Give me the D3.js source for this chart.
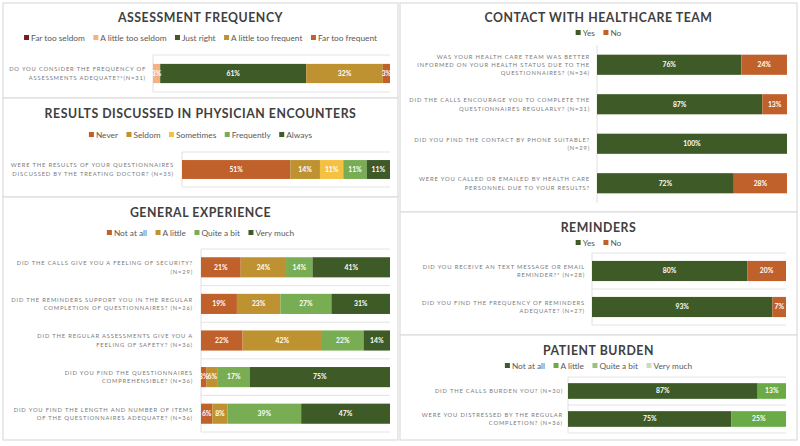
<!DOCTYPE html>
<html>
<head>
<meta charset="utf-8">
<script src="https://cdn.jsdelivr.net/npm/d3@7"></script>
<style>
  html, body { margin: 0; padding: 0; background: #ffffff; }
  svg { display: block; }
</style>
</head>
<body>
<svg id="chart" width="800" height="446"></svg>
<script>
// ---------------- DATA ----------------
const freqCategories = ["Far too seldom", "A little too seldom", "Just right", "A little too frequent", "Far too frequent"];
const freqQuestions = [["DO YOU CONSIDER THE FREQUENCY OF", "ASSESSMENTS ADEQUATE?*(N=31)"]];
const freqValues = [[0, 3, 61, 32, 3]];

const discussCategories = ["Never", "Seldom", "Sometimes", "Frequently", "Always"];
const discussQuestions = [["WERE THE RESULTS OF YOUR QUESTIONNAIRES", "DISCUSSED BY THE TREATING DOCTOR? (N=35)"]];
const discussValues = [[51, 14, 11, 11, 11]];

const generalCategories = ["Not at all", "A little", "Quite a bit", "Very much"];
const generalQuestions = [
  ["DID THE CALLS GIVE YOU A FEELING OF SECURITY?", "(N=29)"],
  ["DID THE REMINDERS SUPPORT YOU IN THE REGULAR", "COMPLETION OF QUESTIONNAIRES? (N=26)"],
  ["DID THE REGULAR ASSESSMENTS GIVE YOU A", "FEELING OF SAFETY? (N=36)"],
  ["DID YOU FIND THE QUESTIONNAIRES", "COMPREHENSIBLE? (N=36)"],
  ["DID YOU FIND THE LENGTH AND NUMBER OF ITEMS", "OF THE QUESTIONNAIRES ADEQUATE? (N=36)"]
];
const generalValues = [
  [21, 24, 14, 41],
  [19, 23, 27, 31],
  [22, 42, 22, 14],
  [3, 6, 17, 75],
  [6, 8, 39, 47]
];

const contactCategories = ["Yes", "No"];
const contactQuestions = [
  ["WAS YOUR HEALTH CARE TEAM WAS BETTER", "INFORMED ON YOUR HEALTH STATUS DUE TO THE", "QUESTIONNAIRES? (N=34)"],
  ["DID THE CALLS ENCOURAGE YOU TO COMPLETE THE", "QUESTIONNAIRES REGULARLY? (N=31)"],
  ["DID YOU FIND THE CONTACT BY PHONE SUITABLE?", "(N=29)"],
  ["WERE YOU CALLED OR EMAILED BY HEALTH CARE", "PERSONNEL DUE TO YOUR RESULTS?"]
];
const contactValues = [[76, 24], [87, 13], [100, 0], [72, 28]];

const reminderCategories = ["Yes", "No"];
const reminderQuestions = [
  ["DID YOU RECEIVE AN TEXT MESSAGE OR EMAIL", "REMINDER?* (N=28)"],
  ["DID YOU FIND THE FREQUENCY OF REMINDERS", "ADEQUATE? (N=27)"]
];
const reminderValues = [[80, 20], [93, 7]];

const burdenCategories = ["Not at all", "A little", "Quite a bit", "Very much"];
const burdenQuestions = [
  ["DID THE CALLS BURDEN YOU? (N=30)"],
  ["WERE YOU DISTRESSED BY THE REGULAR", "COMPLETION? (N=36)"]
];
const burdenValues = [[87, 13, 0, 0], [75, 25, 0, 0]];

// ---------------- STYLE / LAYOUT ----------------
const C = {
  dkred: "#7b1c1c", peach: "#f4b183", dkgreen: "#3d5a27", gold: "#bf9231",
  orange: "#c0602b", yellow: "#f5c143", ltgreen: "#79ad53",
  bGreen: "#6aab48", bLight: "#97c47b", bVLight: "#c9dfbb"
};
const freqColors = [C.dkred, C.peach, C.dkgreen, C.gold, C.orange];
const discussColors = [C.orange, C.gold, C.yellow, C.ltgreen, C.dkgreen];
const generalColors = [C.orange, C.gold, C.ltgreen, C.dkgreen];
const ynColors = [C.dkgreen, C.orange];
const burdenColors = [C.dkgreen, C.bGreen, C.bLight, C.bVLight];

const FONT = "Lato, 'Open Sans', 'DejaVu Sans', sans-serif";
const svg = d3.select("#chart");

svg.append("rect").attr("width", 800).attr("height", 446).attr("fill", "#ffffff");

function drawPanel(cfg, title, categories, colors, questions, values) {
  const g = svg.append("g");
  g.append("rect")
    .attr("x", cfg.px).attr("y", cfg.py).attr("width", cfg.pw).attr("height", cfg.ph)
    .attr("fill", "#ffffff").attr("stroke", "#dcdcdc").attr("stroke-width", 1.2);

  const cx = cfg.px + cfg.pw / 2;
  g.append("text")
    .attr("x", cx).attr("y", cfg.titleY)
    .attr("text-anchor", "middle")
    .attr("font-family", FONT).attr("font-weight", "bold")
    .attr("font-size", 12.3).attr("letter-spacing", 0.55)
    .attr("fill", "#404040")
    .text(title);

  // legend
  const lg = g.append("g");
  let lx = 0;
  categories.forEach((c, i) => {
    const it = lg.append("g").attr("transform", `translate(${lx},0)`);
    it.append("rect").attr("x", 0).attr("y", cfg.legendY - 3).attr("width", 5).attr("height", 5)
      .attr("fill", colors[i]);
    const t = it.append("text").attr("x", 7).attr("y", cfg.legendY + 2.6)
      .attr("font-family", FONT).attr("font-size", 8.3).attr("fill", "#595959").text(c);
    lx += 7 + t.node().getComputedTextLength() + 8.5;
  });
  lx -= 8.5;
  lg.attr("transform", `translate(${cx - lx / 2},0)`);

  const n = values.length;
  const rows = values.map(v => Object.fromEntries(categories.map((c, i) => [c, v[i]])));
  const series = d3.stack().keys(categories).offset(d3.stackOffsetExpand)(rows);

  const x = d3.scaleLinear().domain([0, 1]).range([cfg.x0, cfg.x1]);
  const y = d3.scaleBand().domain(d3.range(n)).range([cfg.y0, cfg.y1])
    .paddingInner(cfg.pad).paddingOuter(cfg.pad / 2);

  // gridlines at band boundaries
  if (cfg.grid) {
    const step = y.step();
    g.selectAll("line.grid").data(d3.range(n + 1)).enter().append("line")
      .attr("x1", cfg.x0).attr("x2", cfg.x1)
      .attr("y1", i => cfg.y0 + i * step).attr("y2", i => cfg.y0 + i * step)
      .attr("stroke", "#e4e4e4").attr("stroke-width", 1);
  }
  g.append("line").attr("x1", cfg.x0).attr("x2", cfg.x0)
    .attr("y1", cfg.y0).attr("y2", cfg.y1)
    .attr("stroke", "#e0e0e0").attr("stroke-width", 1);

  series.forEach((s, si) => {
    g.selectAll(null).data(s).enter().append("rect")
      .attr("x", d => x(d[0])).attr("width", d => x(d[1]) - x(d[0]))
      .attr("y", (d, i) => y(i)).attr("height", y.bandwidth())
      .attr("fill", colors[si]);
  });
  series.forEach((s, si) => {
    g.selectAll(null).data(s.map((d, i) => ({ d, i, v: values[i][si] })).filter(o => o.v > 0))
      .enter().append("text")
      .attr("x", o => (x(o.d[0]) + x(o.d[1])) / 2)
      .attr("y", o => y(o.i) + y.bandwidth() / 2)
      .attr("dy", "0.35em").attr("text-anchor", "middle")
      .attr("font-family", FONT).attr("font-weight", "bold").attr("font-size", 6.8)
      .attr("fill", "#ffffff")
      .text(o => o.v + "%");
  });

  // question labels
  questions.forEach((lines, i) => {
    const yc = y(i) + y.bandwidth() / 2;
    const lh = 8.3;
    const t = g.append("text").attr("text-anchor", "end")
      .attr("font-family", FONT).attr("font-size", 5.8).attr("letter-spacing", 0.82)
      .attr("fill", "#7a7a7a");
    lines.forEach((ln, k) => {
      t.append("tspan").attr("x", cfg.labelX)
        .attr("y", yc + (k - (lines.length - 1) / 2) * lh + 2.1)
        .text(ln);
    });
  });
}

drawPanel({ px: 3, py: 3, pw: 395, ph: 95, titleY: 22, legendY: 38,
  x0: 153, x1: 390, y0: 55, y1: 92, pad: 0.48, labelX: 146, grid: true },
  "ASSESSMENT FREQUENCY", freqCategories, freqColors, freqQuestions, freqValues);

drawPanel({ px: 3, py: 98, pw: 395, ph: 99, titleY: 118, legendY: 135,
  x0: 182, x1: 390, y0: 152, y1: 187, pad: 0.46, labelX: 174, grid: true },
  "RESULTS DISCUSSED IN PHYSICIAN ENCOUNTERS", discussCategories, discussColors, discussQuestions, discussValues);

drawPanel({ px: 3, py: 197, pw: 395, ph: 243, titleY: 217, legendY: 233,
  x0: 201, x1: 390, y0: 249, y1: 432, pad: 0.45, labelX: 193, grid: true },
  "GENERAL EXPERIENCE", generalCategories, generalColors, generalQuestions, generalValues);

drawPanel({ px: 400, py: 3, pw: 397, ph: 209, titleY: 22, legendY: 33,
  x0: 597, x1: 787, y0: 45, y1: 203, pad: 0.49, labelX: 590, grid: false },
  "CONTACT WITH HEALTHCARE TEAM", contactCategories, ynColors, contactQuestions, contactValues);

drawPanel({ px: 400, py: 212, pw: 397, ph: 123, titleY: 232, legendY: 243,
  x0: 592, x1: 786, y0: 253, y1: 325, pad: 0.44, labelX: 585, grid: true },
  "REMINDERS", reminderCategories, ynColors, reminderQuestions, reminderValues);

drawPanel({ px: 400, py: 335, pw: 397, ph: 105, titleY: 355, legendY: 366,
  x0: 568, x1: 786, y0: 377, y1: 433, pad: 0.44, labelX: 563, grid: true },
  "PATIENT BURDEN", burdenCategories, burdenColors, burdenQuestions, burdenValues);
</script>
</body>
</html>
